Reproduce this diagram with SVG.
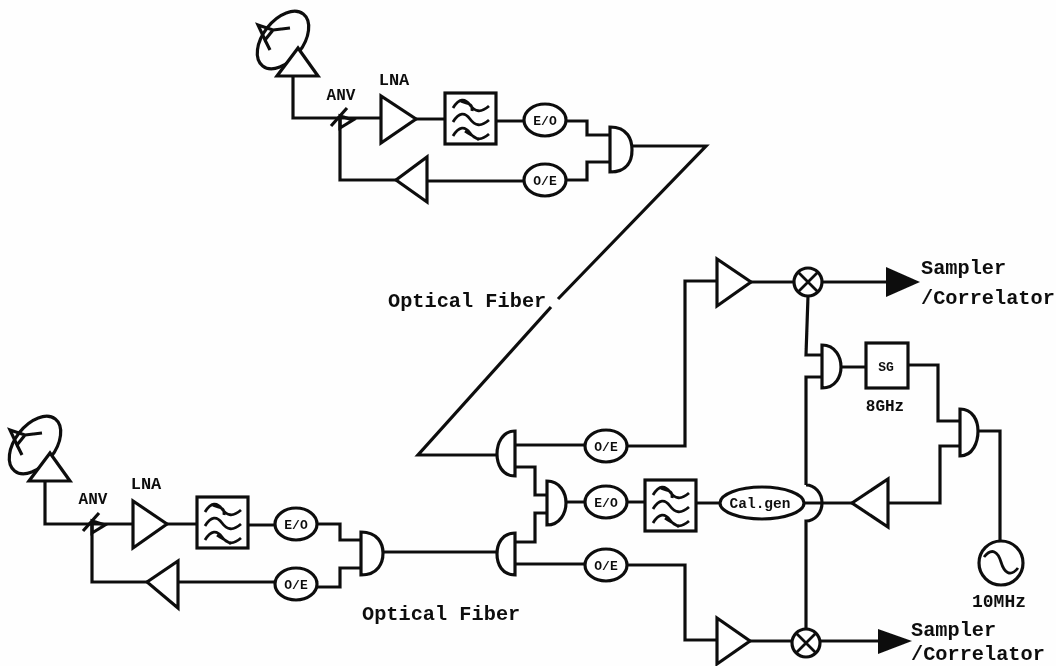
<svg xmlns="http://www.w3.org/2000/svg" xmlns:xlink="http://www.w3.org/1999/xlink" width="1056" height="666" viewBox="0 0 1056 666">
<style>
.l{fill:none;stroke:#111;stroke-width:3.2;stroke-linejoin:miter}
.s{fill:#fff;stroke:#111;stroke-width:3.2}
.w{fill:none;stroke:#111;stroke-width:2.8}
text{font-family:"Liberation Mono",monospace;font-weight:700;fill:#111}
.b{font-size:20.3px}
.m{font-size:16px;text-anchor:middle}
.t{font-size:13px;text-anchor:middle}
</style>
<defs>
<filter id="soft" x="0" y="0" width="100%" height="100%"><feGaussianBlur stdDeviation="0.75"/></filter>
<g id="dish">
<ellipse cx="0" cy="0" rx="20" ry="33" transform="rotate(38)" class="l"/>
<path class="l" d="M-25-15 L-10-10 L-18 0 Z M-10-10 L7-12 M-18 0 L-13 10"/>
<path class="s" d="M15 8 L35 36 L-6 36 Z"/>
</g>
<g id="filt">
<rect x="0" y="0" width="51" height="51" class="s"/>
<path class="w" d="M8 15 C14 5 20 5 25 12 S36 20 44 13 M8 29 C14 19 20 19 25 26 S36 34 44 27 M8 43 C14 33 20 33 25 40 S36 48 44 41 M14 7 C20 12 28 8 27 18 M20 38 C26 42 30 44 34 47"/>
</g>
<g id="atten">
<path class="l" d="M-9 6 L7-12 M0 -4 L0 8 L13 0 Z"/>
</g>
</defs>
<rect width="1056" height="666" fill="#fefefe"/>
<g filter="url(#soft)">
<g id="connectors">
<path class="l" d="M293 76V118H381 M416 119H445 M497 121H525 M566 121H587V135H610 M340 118V180H396 M427 181H525 M566 180H587V162H610"/>
<path class="l" d="M632 146H706L558 299 M551 307L418 455H497"/>
<path class="l" d="M45 480V524H133 M167 524H197 M248 525H276 M317 524H340V540H361 M92 524V582H147 M178 582H276 M317 587H340V568H361"/>
<path class="l" d="M383 552H497"/>
<path class="l" d="M515 445H586 M627 446H685V281H717 M751 282H794 M822 282H890"/>
<path class="l" d="M515 467H535V495H547 M515 542H535V513H547 M566 502H585 M627 502H645 M697 503H720 M805 503H852 M888 503H940V446H960"/>
<path class="l" d="M515 564H586 M627 565H685V640H717 M750 641H792 M820 641H880"/>
<path class="l" d="M808 296L806 355H822 M822 377H806V485 M806 485A16 18 0 0 1 806 521V629"/>
<path class="l" d="M841 367H866 M908 365H938V421H960 M978 431H1000V540"/>
<path fill="#111" d="M886 267L920 282L886 297Z"/>
<path fill="#111" d="M878 629L912 641L878 654Z"/>
</g>
<g id="antenna-top"><use href="#dish" x="283" y="40"/></g>
<g id="attenuator-top"><use href="#atten" x="340" y="120"/><text class="m" x="341" y="100">ANV</text></g>
<g id="lna-top"><path class="s" d="M381 96V143L416 119Z"/><text class="m" x="394" y="85" style="font-size:17px">LNA</text></g>
<g id="filter-top"><use href="#filt" x="445" y="93"/></g>
<g id="eo-top"><ellipse class="s" cx="545" cy="120" rx="21" ry="16"/><text class="t" x="545" y="125">E/O</text></g>
<g id="amp-top"><path class="s" d="M396 180L427 157V202Z"/></g>
<g id="oe-top"><ellipse class="s" cx="545" cy="180" rx="21" ry="16"/><text class="t" x="545" y="185">O/E</text></g>
<g id="coupler-top"><path class="s" d="M610 127C628 127 632 140 632 150C632 160 628 172 610 172Z"/></g>
<g id="antenna-bottom"><use href="#dish" x="35" y="445"/></g>
<g id="attenuator-bottom"><use href="#atten" x="92" y="525"/><text class="m" x="93" y="504">ANV</text></g>
<g id="lna-bottom"><path class="s" d="M133 501V548L167 524Z"/><text class="m" x="146" y="489" style="font-size:17px">LNA</text></g>
<g id="filter-bottom"><use href="#filt" x="197" y="497"/></g>
<g id="eo-bottom"><ellipse class="s" cx="296" cy="524" rx="21" ry="16"/><text class="t" x="296" y="529">E/O</text></g>
<g id="amp-bottom"><path class="s" d="M147 582L178 561V608Z"/></g>
<g id="oe-bottom"><ellipse class="s" cx="296" cy="584" rx="21" ry="16"/><text class="t" x="296" y="589">O/E</text></g>
<g id="coupler-bottom"><path class="s" d="M361 532C378 532 383 544 383 553C383 563 378 575 361 575Z"/></g>
<g id="splitter-a"><path class="s" d="M515 431C502 431 497 444 497 454C497 464 502 476 515 476Z"/></g>
<g id="splitter-b"><path class="s" d="M515 533C502 533 497 544 497 554C497 564 502 575 515 575Z"/></g>
<g id="combiner-c"><path class="s" d="M547 481C560 481 566 493 566 503C566 513 560 525 547 525Z"/></g>
<g id="oe-a"><ellipse class="s" cx="606" cy="446" rx="21" ry="16"/><text class="t" x="606" y="451">O/E</text></g>
<g id="eo-c"><ellipse class="s" cx="606" cy="502" rx="21" ry="16"/><text class="t" x="606" y="507">E/O</text></g>
<g id="oe-b"><ellipse class="s" cx="606" cy="565" rx="21" ry="16"/><text class="t" x="606" y="570">O/E</text></g>
<g id="filter-c"><use href="#filt" x="645" y="480"/></g>
<g id="calgen"><ellipse class="s" cx="762" cy="503" rx="42" ry="16"/><text class="t" x="760" y="508" style="font-size:14.5px">Cal.gen</text></g>
<g id="amp-r1"><path class="s" d="M717 259V306L751 282Z"/></g>
<g id="amp-r2"><path class="s" d="M717 618V664L750 641Z"/></g>
<g id="amp-r3"><path class="s" d="M852 503L888 479V527Z"/></g>
<g id="mixer-top"><circle class="s" cx="808" cy="282" r="14"/><path class="w" d="M798 272L818 292M818 272L798 292"/></g>
<g id="mixer-bottom"><circle class="s" cx="806" cy="643" r="14"/><path class="w" d="M796 633L816 653M816 633L796 653"/></g>
<g id="coupler-d"><path class="s" d="M822 345C836 345 841 358 841 367C841 376 836 388 822 388Z"/></g>
<g id="sg"><rect class="s" x="866" y="343" width="42" height="45"/><text class="t" x="886" y="371">SG</text><text class="m" x="885" y="411">8GHz</text></g>
<g id="coupler-e"><path class="s" d="M960 409C973 409 978 421 978 431C978 442 973 456 960 456Z"/></g>
<g id="oscillator"><circle class="s" cx="1001" cy="563" r="22"/><path class="w" d="M984 557C992 547 998 552 1001 562S1010 578 1018 568"/><text class="m" x="999" y="607" style="font-size:18px">10MHz</text></g>
<g id="labels">
<text class="b" x="388" y="307">Optical Fiber</text>
<text class="b" x="362" y="620">Optical Fiber</text>
<text class="b" x="921" y="274">Sampler</text>
<text class="b" x="921" y="304">/Correlator</text>
<text class="b" x="911" y="636">Sampler</text>
<text class="b" x="911" y="660">/Correlator</text>
</g>
</g>
</svg>
